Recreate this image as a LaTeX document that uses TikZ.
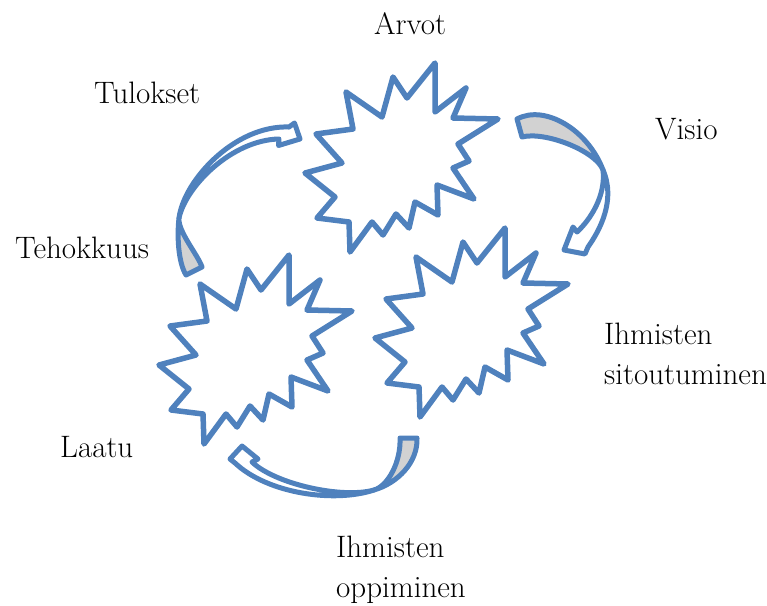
\documentclass[tikz,border=0pt]{standalone}
\usepackage{tikz}

\definecolor{accent}{RGB}{79,129,189}
\definecolor{backside}{RGB}{210,210,210}

% outline of one burst, around its centre
\newcommand{\burstpath}{(35,-97) -- (35,-48) -- (66,-72) -- (53,-42) -- (98,-41) -- (58,-16)
  -- (69,1) -- (53,8) -- (74,39) -- (37,25) -- (38,55) -- (15,42) -- (9,68) -- (-4,54)
  -- (-17,75) -- (-28,62) -- (-50,92) -- (-51,62) -- (-83,58) -- (-65,37) -- (-95,13)
  -- (-58,3) -- (-84,-26) -- (-47,-31) -- (-54,-68) -- (-18,-43) -- (-7,-83) -- (7,-62) -- cycle}

\tikzset{
  burst/.style={draw=accent, line width=5.5pt, line join=round, fill=white},
  ribbon/.style={draw=accent, line width=5pt, line join=round},
  caption/.style={font=\fontsize{31}{40}\selectfont, inner sep=0pt, anchor=base west}
}

\begin{document}
\begin{tikzpicture}[x=1pt, y=-1pt]
    \useasboundingbox (0,0) rectangle (767,605);

    % the three bursts
    \foreach \cx/\cy in {400/160, 254/352, 470/325}
      \draw[burst, shift={(\cx,\cy)}] \burstpath;

    % curved arrow, top right
    \draw[ribbon, fill=backside] (517,119) .. controls (545,104) and (588,130) .. (603,170)
      .. controls (596,151) and (545,131) .. (522,137) -- cycle;
    \draw[ribbon, fill=white] (603,170) .. controls (616,200) and (600,230) .. (588,247)
      -- (585,254) -- (564,250) -- (573,227) -- (577,232)
      .. controls (590,220) and (606,196) .. (603,170) -- cycle;

    % curved arrow, left
    \draw[ribbon, fill=backside] (186,275) .. controls (178,262) and (177,235) .. (179,218)
      .. controls (177.5,231) and (198,255) .. (202,267) -- cycle;
    \draw[ribbon, fill=white] (179,218) .. controls (184,180) and (235,125) .. (289,127)
      -- (294.5,123) -- (300,139) -- (278.5,145.5) -- (279,139)
      .. controls (232,140) and (186,186) .. (179,218) -- cycle;

    % curved arrow, bottom
    \draw[ribbon, fill=backside] (417,438) .. controls (418,462) and (398,483) .. (374,490)
      .. controls (388,486) and (401,462) .. (400,438) -- cycle;
    \draw[ribbon, fill=white] (374,490) .. controls (335,503) and (268,494) .. (235,463)
      -- (230,459) -- (242,446) -- (258,459) -- (252,462)
      .. controls (275,484) and (342,499) .. (374,490) -- cycle;

    % labels
    \node[caption] (arvot) at (374,34) {Arvot};
    \node[caption] (tulokset) at (94,103.5) {Tulokset};
    \node[caption] (visio) at (655,139) {Visio};
    \node[caption] (tehokkuus) at (15,258) {Tehokkuus};
    \node[caption] (sitoutuminen) at (604,344)
      {\begin{tabular}[t]{@{}l@{}}Ihmisten\\ sitoutuminen\end{tabular}};
    \node[caption] (laatu) at (60,457) {Laatu};
    \node[caption] (oppiminen) at (336,557)
      {\begin{tabular}[t]{@{}l@{}}Ihmisten\\ oppiminen\end{tabular}};
\end{tikzpicture}
\end{document}
